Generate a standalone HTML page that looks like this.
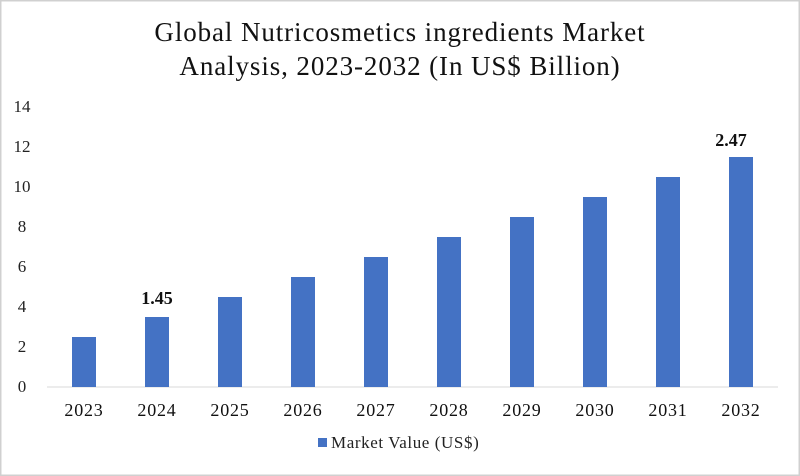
<!DOCTYPE html>
<html><head><style>
body{margin:0;background:#fff}
svg{display:block;font-family:"Liberation Serif",serif}
</style></head><body>
<svg width="800" height="476" viewBox="0 0 800 476">
<rect x="0.75" y="0.75" width="798.5" height="474.5" fill="#fff" stroke="#d0d0d0" stroke-width="1.5"/>
<text x="400" y="41" text-anchor="middle" font-size="27" letter-spacing="0.9" fill="#111">Global Nutricosmetics ingredients Market</text>
<text x="400" y="75" text-anchor="middle" font-size="27" letter-spacing="0.9" fill="#111">Analysis, 2023-2032 (In US$ Billion)</text>
<g font-size="17" fill="#222" text-anchor="middle">
<text x="22" y="392">0</text><text x="22" y="352">2</text><text x="22" y="312">4</text><text x="22" y="272">6</text>
<text x="22" y="232">8</text><text x="22" y="192">10</text><text x="22" y="152">12</text><text x="22" y="112">14</text>
</g>
<line x1="47" y1="387" x2="778" y2="387" stroke="#d9d9d9" stroke-width="1"/>
<g fill="#4472c4">
<rect x="72" y="337" width="24" height="50"/>
<rect x="145" y="317" width="24" height="70"/>
<rect x="218" y="297" width="24" height="90"/>
<rect x="291" y="277" width="24" height="110"/>
<rect x="364" y="257" width="24" height="130"/>
<rect x="437" y="237" width="24" height="150"/>
<rect x="510" y="217" width="24" height="170"/>
<rect x="583" y="197" width="24" height="190"/>
<rect x="656" y="177" width="24" height="210"/>
<rect x="729" y="157" width="24" height="230"/>
</g>
<g font-size="18" letter-spacing="0.8" fill="#111" text-anchor="middle">
<text x="84" y="416">2023</text><text x="157" y="416">2024</text><text x="230" y="416">2025</text>
<text x="303" y="416">2026</text><text x="376" y="416">2027</text><text x="449" y="416">2028</text>
<text x="522" y="416">2029</text><text x="595" y="416">2030</text><text x="668" y="416">2031</text><text x="741" y="416">2032</text>
</g>
<text x="157" y="304" text-anchor="middle" font-size="18" font-weight="bold" fill="#111">1.45</text>
<text x="731" y="146" text-anchor="middle" font-size="18" font-weight="bold" fill="#111">2.47</text>
<rect x="318" y="438" width="9" height="9" fill="#4472c4"/>
<text x="331" y="448" font-size="17" letter-spacing="0.6" fill="#222">Market Value (US$)</text>
</svg>
</body></html>
